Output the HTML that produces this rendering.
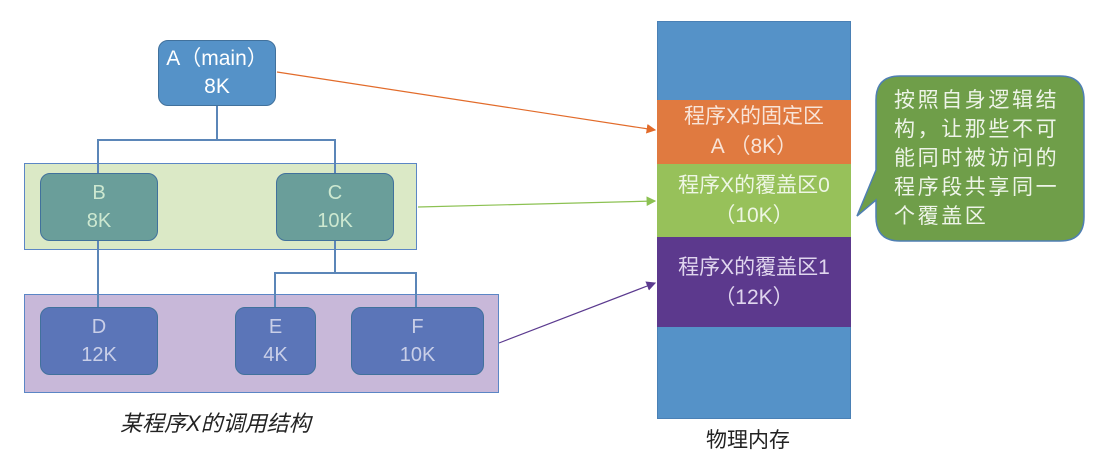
<!DOCTYPE html><html><head><meta charset="utf-8"><style>
body{margin:0;width:1104px;height:463px;background:#fff;position:relative;overflow:hidden;font-family:"Liberation Sans","Noto Sans CJK SC",sans-serif}
.b{position:absolute;box-sizing:border-box;display:flex;flex-direction:column;align-items:center;justify-content:center;color:#fff;font-size:20px;line-height:28px;text-align:center}
.r{border-radius:10px;border:1.5px solid #41719c}
.t{color:#cde8d0}
</style></head><body>
<div class="b" style="left:24px;top:163px;width:393px;height:87px;background:#dbe9c6;border:1.5px solid #5b86c5"></div>
<div class="b" style="left:24px;top:294px;width:475px;height:99px;background:#c8b8d9;border:1.5px solid #5b86c5"></div>
<svg style="position:absolute;left:0;top:0" width="1104" height="463">
<g stroke="#5b86b8" stroke-width="2" fill="none">
<path d="M217 106V140M98 173V140H335V173M98 241V307M335 241V273M275 307V273H416V307"/>
</g>
<defs>
<marker id="mo" markerWidth="8" markerHeight="8" refX="7" refY="4" orient="auto"><path d="M0 0L8 4L0 8z" fill="#e26b2a"/></marker>
<marker id="mg" markerWidth="8" markerHeight="8" refX="7" refY="4" orient="auto"><path d="M0 0L8 4L0 8z" fill="#8cc152"/></marker>
<marker id="mp" markerWidth="8" markerHeight="8" refX="7" refY="4" orient="auto"><path d="M0 0L8 4L0 8z" fill="#5b3a8f"/></marker>
</defs>
<line x1="277" y1="72" x2="655" y2="130" stroke="#e26b2a" stroke-width="1.2" marker-end="url(#mo)"/>
<line x1="418" y1="207" x2="655" y2="201" stroke="#8cc152" stroke-width="1.2" marker-end="url(#mg)"/>
<line x1="499" y1="343" x2="655" y2="283" stroke="#5b3a8f" stroke-width="1.2" marker-end="url(#mp)"/>
<path d="M900 76H1060Q1084 76 1084 100V217Q1084 241 1060 241H900Q876 241 876 217V200L857 216L876 170V100Q876 76 900 76Z" fill="#6f9e49" stroke="#4f7fb3" stroke-width="1.5"/>
</svg>
<div class="b r" style="left:158px;top:40px;width:118px;height:66px;background:#5592c8;font-size:21px">A（main）<br>8K</div>
<div class="b r t" style="left:40px;top:173px;width:118px;height:68px;background:#6a9e9a">B<br>8K</div>
<div class="b r t" style="left:276px;top:173px;width:118px;height:68px;background:#6a9e9a">C<br>10K</div>
<div class="b r" style="left:40px;top:307px;width:118px;height:68px;background:#5b75b8;color:#c9cfe8">D<br>12K</div>
<div class="b r" style="left:235px;top:307px;width:81px;height:68px;background:#5b75b8;color:#c9cfe8">E<br>4K</div>
<div class="b r" style="left:351px;top:307px;width:133px;height:68px;background:#5b75b8;color:#c9cfe8">F<br>10K</div>
<div style="position:absolute;left:120px;top:406px;font-size:22px;font-style:italic;color:#222">某程序X的调用结构</div>
<div class="b" style="left:657px;top:21px;width:194px;height:398px;background:#5592c8;border:1px solid #4a80b5"></div>
<div class="b" style="left:657px;top:100px;width:194px;height:64px;background:#e07a40;color:#f8e4d8;font-size:21px;line-height:30px">程序X的固定区<br>A （8K）</div>
<div class="b" style="left:657px;top:164px;width:194px;height:73px;background:#97c15a;color:#eef6e4;font-size:21px;line-height:30px">程序X的覆盖区0<br>（10K）</div>
<div class="b" style="left:657px;top:237px;width:194px;height:90px;background:#5c398d;color:#e0d6ee;font-size:21px;line-height:30px;justify-content:flex-start;padding-top:16px">程序X的覆盖区1<br>（12K）</div>
<div style="position:absolute;left:894px;top:86px;width:172px;font-size:21px;letter-spacing:2.6px;line-height:29px;color:#eef4e8">按照自身逻辑结构，让那些不可能同时被访问的程序段共享同一个覆盖区</div>
<div style="position:absolute;left:706px;top:424px;font-size:21px;color:#222">物理内存</div>
</body></html>
